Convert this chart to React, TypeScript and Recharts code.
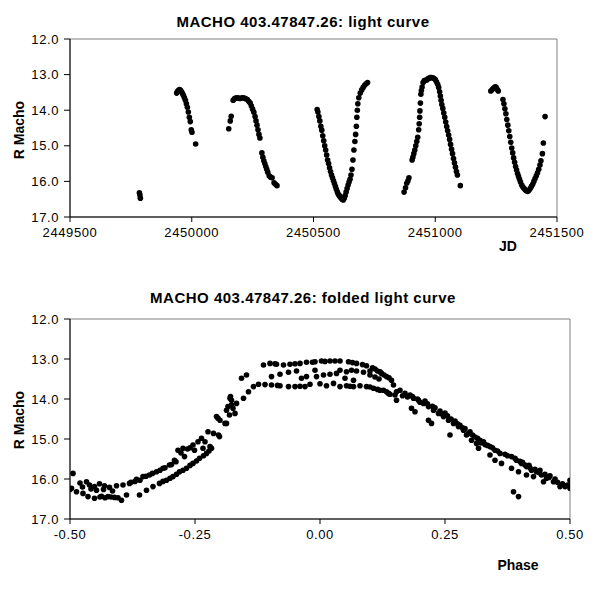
import React from "react";
import { ScatterChart, Scatter, XAxis, YAxis, ReferenceArea } from "recharts";

const FONT = "'Liberation Sans', Arial, sans-serif";

const magTicks = [12, 12.5, 13, 13.5, 14, 14.5, 15, 15.5, 16, 16.5, 17];
const jdTicks = [2449500, 2450000, 2450500, 2451000, 2451500];
const phaseTicks = [-0.5, -0.25, 0, 0.25, 0.5];

// light curve, one list per observing season: [JD, R mag]
const season1: [number, number][] = [
  [2449785, 16.32], [2449787, 16.38], [2449789, 16.47],
];

const season2: [number, number][] = [
  [2449938, 13.52], [2449942, 13.47], [2449946, 13.44], [2449950, 13.42], [2449954, 13.44],
  [2449958, 13.48], [2449962, 13.53], [2449966, 13.59], [2449970, 13.65], [2449974, 13.72],
  [2449978, 13.82], [2449982, 13.92], [2449986, 14.05], [2449990, 14.2], [2449994, 14.32],
  [2449998, 14.55], [2450001, 14.62], [2450016, 14.95],
];

const season3: [number, number][] = [
  [2450152, 14.52], [2450158, 14.3], [2450162, 14.17], [2450170, 13.72], [2450175, 13.68],
  [2450180, 13.66], [2450186, 13.65], [2450192, 13.66], [2450198, 13.67], [2450204, 13.66],
  [2450210, 13.65], [2450216, 13.66], [2450222, 13.68], [2450228, 13.7], [2450234, 13.75],
  [2450240, 13.8], [2450245, 13.88], [2450250, 13.97], [2450255, 14.06], [2450260, 14.18],
  [2450264, 14.3], [2450268, 14.42], [2450272, 14.55], [2450276, 14.68], [2450280, 14.78],
  [2450288, 15.2], [2450292, 15.32], [2450296, 15.42], [2450300, 15.5], [2450304, 15.58],
  [2450308, 15.66], [2450312, 15.74], [2450318, 15.84], [2450324, 15.88], [2450330, 15.9],
  [2450338, 16.04], [2450344, 16.08], [2450350, 16.12],
];

const season4: [number, number][] = [
  [2450515, 13.98], [2450518, 14.05], [2450522, 14.18], [2450526, 14.3], [2450530, 14.45],
  [2450534, 14.56], [2450538, 14.72], [2450542, 14.86], [2450546, 15.0], [2450550, 15.12],
  [2450554, 15.26], [2450558, 15.4], [2450562, 15.5], [2450566, 15.62], [2450570, 15.72],
  [2450574, 15.82], [2450578, 15.9], [2450582, 15.98], [2450586, 16.06], [2450590, 16.14],
  [2450594, 16.22], [2450598, 16.3], [2450602, 16.36], [2450606, 16.4], [2450610, 16.44],
  [2450614, 16.47], [2450618, 16.5], [2450622, 16.52], [2450626, 16.48], [2450630, 16.4],
  [2450634, 16.3], [2450638, 16.2], [2450642, 16.1], [2450646, 16.02], [2450650, 15.94],
  [2450654, 15.82], [2450658, 15.66], [2450662, 15.4], [2450666, 15.12], [2450670, 14.88],
  [2450673, 14.68], [2450676, 14.45], [2450678, 14.2], [2450680, 14.0], [2450682, 13.82],
  [2450686, 13.65], [2450692, 13.52], [2450698, 13.43], [2450704, 13.36], [2450710, 13.3],
  [2450716, 13.26], [2450722, 13.22],
];

const season5: [number, number][] = [
  [2450872, 16.3], [2450878, 16.18], [2450883, 16.05], [2450888, 15.98], [2450892, 15.9],
  [2450905, 15.4], [2450908, 15.32], [2450912, 15.22], [2450916, 15.12], [2450920, 15.0],
  [2450924, 14.88], [2450928, 14.76], [2450932, 14.55], [2450934, 14.38], [2450936, 14.2],
  [2450937, 14.02], [2450939, 13.8], [2450941, 13.55], [2450943, 13.45], [2450946, 13.35],
  [2450950, 13.22], [2450955, 13.17], [2450960, 13.16], [2450965, 13.15], [2450970, 13.12],
  [2450975, 13.1], [2450980, 13.08], [2450985, 13.08], [2450990, 13.09], [2450995, 13.11],
  [2451000, 13.14], [2451005, 13.2], [2451010, 13.27], [2451014, 13.36], [2451018, 13.48],
  [2451021, 13.6], [2451024, 13.72], [2451027, 13.84], [2451031, 13.95], [2451035, 14.08],
  [2451039, 14.2], [2451043, 14.33], [2451047, 14.46], [2451051, 14.58], [2451055, 14.7],
  [2451059, 14.82], [2451063, 14.96], [2451067, 15.1], [2451071, 15.22], [2451075, 15.36],
  [2451079, 15.48], [2451083, 15.6], [2451087, 15.72], [2451091, 15.82], [2451103, 16.12],
];

const season6: [number, number][] = [
  [2451228, 13.46], [2451234, 13.42], [2451240, 13.38], [2451246, 13.34], [2451250, 13.36],
  [2451255, 13.42], [2451259, 13.46], [2451278, 13.7], [2451282, 13.82], [2451286, 13.96],
  [2451290, 14.1], [2451294, 14.26], [2451298, 14.42], [2451302, 14.58], [2451306, 14.74],
  [2451310, 14.9], [2451314, 15.06], [2451318, 15.2], [2451322, 15.34], [2451326, 15.46],
  [2451330, 15.58], [2451334, 15.68], [2451338, 15.78], [2451342, 15.86], [2451346, 15.94],
  [2451350, 16.02], [2451355, 16.1], [2451360, 16.16], [2451365, 16.2], [2451370, 16.24],
  [2451375, 16.27], [2451380, 16.28], [2451385, 16.25], [2451390, 16.2], [2451395, 16.14],
  [2451400, 16.08], [2451405, 16.0], [2451410, 15.92], [2451415, 15.84], [2451420, 15.76],
  [2451425, 15.66], [2451430, 15.54], [2451434, 15.42], [2451440, 15.22], [2451444, 14.92],
  [2451451, 14.18],
];

// folded light curve: [phase, R mag]
const folded: [number, number][] = [
  [-0.494, 15.86], [-0.497, 16.23], [-0.5, 16.26], [-0.487, 16.32], [-0.474, 16.36],
  [-0.464, 16.44], [-0.451, 16.48], [-0.437, 16.43], [-0.424, 16.44], [-0.411, 16.46],
  [-0.397, 16.53], [-0.387, 16.4], [-0.467, 16.07], [-0.461, 16.15], [-0.451, 16.19],
  [-0.441, 16.12], [-0.431, 16.17], [-0.421, 16.21], [-0.407, 16.17], [-0.394, 16.15],
  [-0.381, 16.11], [-0.367, 16.01], [-0.354, 15.94], [-0.341, 15.9], [-0.327, 15.82],
  [-0.314, 15.73], [-0.301, 15.65], [-0.284, 15.28], [-0.274, 15.23], [-0.291, 15.53],
  [-0.271, 15.44], [-0.254, 15.15], [-0.244, 15.07], [-0.237, 14.98], [-0.224, 14.82],
  [-0.251, 15.28], [-0.234, 15.23], [-0.361, 16.4], [-0.347, 16.28], [-0.334, 16.19],
  [-0.321, 16.11], [-0.307, 16.03], [-0.294, 15.94], [-0.281, 15.82], [-0.267, 15.73],
  [-0.254, 15.61], [-0.241, 15.48], [-0.227, 15.36], [-0.217, 15.23], [-0.201, 14.94],
  [-0.204, 14.48], [-0.187, 14.61], [-0.181, 14.4], [-0.177, 14.03], [-0.184, 14.19],
  [-0.174, 14.23], [-0.179, 13.94], [-0.23, 15.07], [-0.22, 15.19], [-0.213, 14.86],
  [-0.203, 14.9], [-0.207, 14.44], [-0.2, 14.53], [-0.19, 14.61], [-0.187, 14.28],
  [-0.18, 13.98], [-0.177, 14.15], [-0.17, 14.36], [-0.167, 14.11], [-0.157, 13.48],
  [-0.147, 13.4], [-0.153, 13.98], [-0.143, 13.82], [-0.133, 13.69], [-0.123, 13.63],
  [-0.113, 13.15], [-0.1, 13.11], [-0.087, 13.13], [-0.073, 13.15], [-0.06, 13.13],
  [-0.04, 13.11], [-0.027, 13.08], [-0.01, 13.07], [0.003, 13.05], [0.02, 13.05],
  [0.04, 13.05], [0.057, 13.07], [0.073, 13.11], [0.093, 13.17], [0.11, 13.25],
  [0.123, 13.36], [0.133, 13.44], [-0.097, 13.44], [-0.08, 13.38], [-0.063, 13.33],
  [-0.047, 13.3], [-0.037, 13.48], [-0.027, 13.44], [-0.01, 13.28], [-0.007, 13.44],
  [0.007, 13.4], [0.02, 13.38], [0.033, 13.36], [0.04, 13.28], [0.053, 13.32],
  [0.063, 13.28], [0.073, 13.3], [0.087, 13.33], [0.1, 13.4], [0.05, 13.48],
  [0.067, 13.53], [-0.097, 13.65], [-0.08, 13.67], [-0.063, 13.69], [-0.05, 13.69],
  [-0.03, 13.69], [-0.02, 13.63], [0.013, 13.67], [0.027, 13.61], [0.04, 13.69],
  [0.053, 13.67], [0.067, 13.69], [0.08, 13.67], [0.093, 13.69], [0.107, 13.73],
  [0.12, 13.78], [0.133, 13.82], [0.127, 13.78], [0.137, 13.86], [0.147, 13.65],
  [0.153, 13.82], [0.16, 13.78], [0.17, 13.86], [0.18, 13.9], [0.187, 13.98],
  [0.197, 14.03], [0.207, 14.11], [0.217, 14.19], [0.227, 14.28], [0.237, 14.36],
  [0.247, 14.44], [0.257, 14.53], [0.267, 14.61], [0.277, 14.69], [0.287, 14.78],
  [0.297, 14.86], [0.293, 14.9], [0.303, 15.03], [0.313, 15.11], [0.32, 15.03],
  [0.327, 15.07], [0.317, 15.23], [0.34, 15.19], [0.35, 15.28], [0.36, 15.36],
  [0.34, 15.4], [0.35, 15.53], [0.363, 15.61], [0.383, 15.44], [0.393, 15.53],
  [0.403, 15.61], [0.413, 15.69], [0.423, 15.78], [0.433, 15.82], [0.443, 15.9],
  [0.453, 15.98], [0.383, 15.73], [0.397, 15.82], [0.413, 15.9], [0.427, 15.94],
  [0.447, 16.07], [0.467, 16.07], [0.48, 16.19], [0.49, 16.19], [0.5, 16.03],
  [0.5, 16.23], [0.387, 16.32], [0.397, 16.44], [0.153, 14.03], [0.183, 14.23],
  [0.19, 14.32], [0.217, 14.53], [0.223, 14.61], [0.26, 14.9],
  [0.14, 13.88], [0.15, 13.9], [0.165, 13.92], [0.175, 13.95], [0.185, 13.94],
  [0.195, 14.0], [0.2, 14.08], [0.21, 14.05], [0.215, 14.12], [0.225, 14.18],
  [0.23, 14.22], [0.24, 14.3], [0.245, 14.38], [0.25, 14.35], [0.255, 14.42],
  [0.262, 14.5], [0.27, 14.55], [0.275, 14.62], [0.28, 14.66], [0.285, 14.72],
  [0.29, 14.74], [0.3, 14.82], [0.305, 14.9], [0.31, 14.95], [0.315, 14.98],
  [0.322, 15.1], [0.33, 15.14], [0.335, 15.16], [0.345, 15.22], [0.355, 15.3],
  [0.37, 15.38], [0.375, 15.42], [0.39, 15.48], [0.4, 15.56], [0.405, 15.58],
  [0.41, 15.65], [0.418, 15.66], [0.42, 15.72], [0.43, 15.76], [0.438, 15.84],
  [0.44, 15.78], [0.45, 15.88], [0.458, 15.96], [0.46, 15.92], [0.47, 16.0],
  [0.475, 16.08], [0.485, 16.12], [0.495, 16.15],
  [0.1, 13.3], [0.105, 13.22], [0.115, 13.3], [0.12, 13.32], [0.128, 13.4],
  [0.138, 13.47], [0.143, 13.53], [0.11, 13.45], [0.118, 13.5],
  [-0.48, 16.1], [-0.475, 16.2], [-0.458, 16.25], [-0.447, 16.28], [-0.433, 16.26],
  [-0.415, 16.3], [-0.44, 16.45], [-0.43, 16.47], [-0.418, 16.45], [-0.404, 16.47],
  [-0.378, 16.08], [-0.37, 16.06], [-0.36, 16.03], [-0.348, 15.93], [-0.335, 15.86],
  [-0.32, 15.78], [-0.31, 15.72], [-0.297, 15.64], [-0.288, 15.57], [-0.265, 15.25],
  [-0.26, 15.22], [-0.278, 15.35], [-0.314, 16.06], [-0.3, 15.98], [-0.287, 15.88],
  [-0.274, 15.78], [-0.26, 15.66], [-0.247, 15.55], [-0.233, 15.42], [-0.222, 15.3],
  [-0.09, 13.12], [-0.05, 13.12], [-0.015, 13.08], [0.01, 13.06], [0.03, 13.05],
  [0.065, 13.09], [0.085, 13.14], [-0.11, 13.64], [-0.085, 13.66], [-0.04, 13.68],
  [0.0, 13.62], [0.06, 13.68], [0.1, 13.7], [0.115, 13.76],
];

const toPts = (rows: [number, number][]) => rows.map(([x, y]) => ({ x, y }));
const lightPts = toPts([...season1, ...season2, ...season3, ...season4, ...season5, ...season6]);
const foldedPts = toPts(folded);

const tickStyle = { fontSize: 13, fill: "#000", fontFamily: FONT, letterSpacing: 0.6 };

function Dot(props: any) {
  const { cx, cy } = props;
  if (cx == null || cy == null) return null;
  return <circle cx={cx} cy={cy} r={2.8} fill="#000" />;
}

function Panel({ data, xDomain, xTicks, xFmt, right, height, bottom }: any) {
  return (
    <ScatterChart width={600} height={height} margin={{ top: 39, right, bottom, left: 0 }}>
      <XAxis
        type="number"
        dataKey="x"
        domain={xDomain}
        ticks={xTicks}
        tickFormatter={xFmt}
        allowDataOverflow
        height={30}
        tickSize={5}
        tickMargin={6}
        stroke="#000"
        tick={tickStyle}
      />
      <YAxis
        type="number"
        dataKey="y"
        domain={[12, 17]}
        ticks={magTicks}
        reversed
        allowDataOverflow
        tickFormatter={(v: number) => v.toFixed(1)}
        width={70}
        tickSize={6}
        tickMargin={5}
        stroke="#000"
        tick={tickStyle}
      />
      <ReferenceArea x1={xDomain[0]} x2={xDomain[1]} y1={12} y2={17} fill="none" stroke="#808080" />
      <Scatter data={data} fill="#000" shape={Dot} isAnimationActive={false} />
    </ScatterChart>
  );
}

export default function App() {
  const bold = { fontFamily: FONT, fontWeight: 700, fill: "#000" } as const;
  return (
    <div style={{ position: "absolute", left: 0, top: 0, width: 600, height: 600, background: "#fff" }}>
      <div style={{ position: "absolute", left: 0, top: 0 }}>
        <Panel
          data={lightPts}
          xDomain={[2449500, 2451500]}
          xTicks={jdTicks}
          xFmt={(v: number) => String(v)}
          right={43}
          height={280}
          bottom={33}
        />
      </div>
      <div style={{ position: "absolute", left: 0, top: 280 }}>
        <Panel
          data={foldedPts}
          xDomain={[-0.5, 0.5]}
          xTicks={phaseTicks}
          xFmt={(v: number) => v.toFixed(2)}
          right={30}
          height={320}
          bottom={51}
        />
      </div>
      <svg width={600} height={600} style={{ position: "absolute", left: 0, top: 0, pointerEvents: "none" }}>
        <text x={303} y={27} textAnchor="middle" fontSize={15} letterSpacing={0.5} {...bold}>
          MACHO 403.47847.26: light curve
        </text>
        <text x={303} y={303} textAnchor="middle" fontSize={15} letterSpacing={0.5} {...bold}>
          MACHO 403.47847.26: folded light curve
        </text>
        <text x={0} y={0} transform="translate(24 130) rotate(-90)" textAnchor="middle" fontSize={14} {...bold}>
          R Macho
        </text>
        <text x={0} y={0} transform="translate(24 420) rotate(-90)" textAnchor="middle" fontSize={14} {...bold}>
          R Macho
        </text>
        <text x={508} y={251} textAnchor="middle" fontSize={14} {...bold}>
          JD
        </text>
        <text x={518} y={570} textAnchor="middle" fontSize={14} {...bold}>
          Phase
        </text>
      </svg>
    </div>
  );
}
